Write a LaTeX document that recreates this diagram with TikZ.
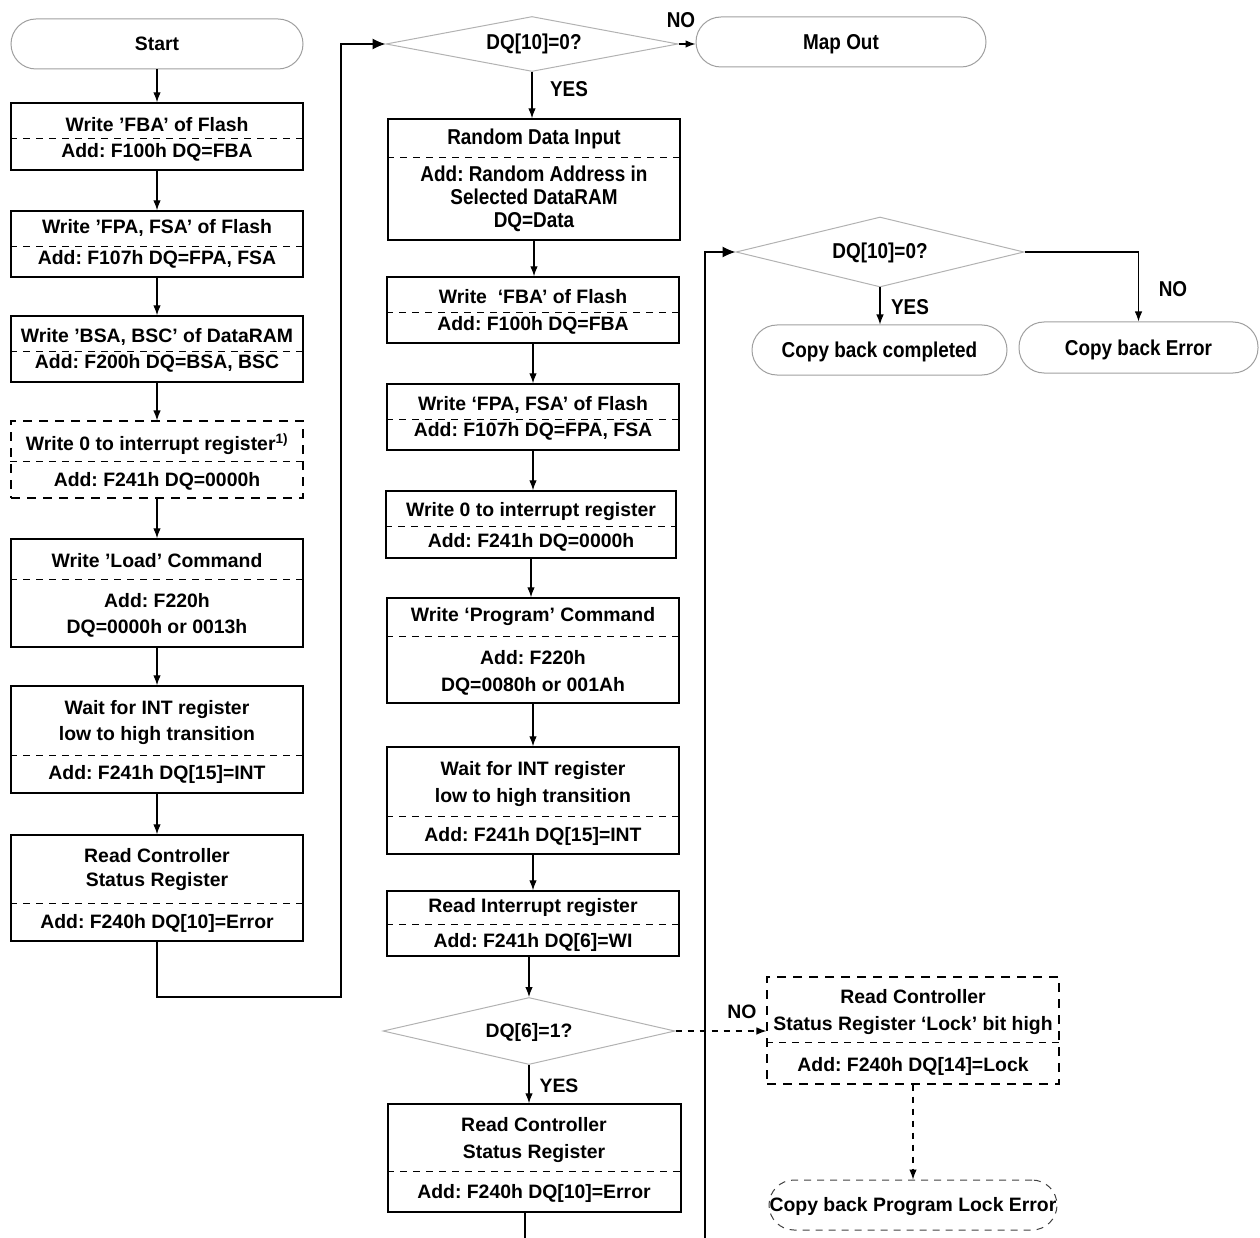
\documentclass[tikz,border=0pt]{standalone}
\usepackage{fontspec}
\setmainfont{Liberation Sans}
\newfontfamily\nfont[FakeStretch=0.88]{Liberation Sans}
\usetikzlibrary{arrows.meta,shapes.geometric}
\frenchspacing
\begin{document}
\begin{tikzpicture}[x=1pt,y=-1pt,
 box/.style={draw, line width=1.4pt, minimum width=292pt, inner sep=0pt, rectangle},
 dbox/.style={box, line width=1.1pt, dash pattern=on 9pt off 7pt},
 term/.style={draw=gray!75, line width=1pt, rounded corners=25pt, minimum height=50pt, inner sep=0pt, rectangle},
 dterm/.style={term, draw=black!75, dash pattern=on 7pt off 6pt},
 dec/.style={draw=gray!60, line width=1pt, shape=diamond, inner sep=0pt},
 txt/.style={font=\fontsize{19.4}{23}\selectfont\bfseries, inner sep=0pt, text height=13.9pt, text depth=0pt},
 ntxt/.style={font=\fontsize{21.5}{25}\selectfont\nfont\bfseries, inner sep=0pt, text height=15.4pt, text depth=0pt},
 arr/.style={line width=1.2pt, -{Latex[length=10pt,width=7.5pt]}},
 barr/.style={line width=1.2pt, -{Latex[length=13pt,width=11pt]}},
 darr/.style={arr, dash pattern=on 6pt off 6pt},
 div/.style={line width=0.9pt, dash pattern=on 7pt off 6pt}]
\useasboundingbox (0,0) rectangle (1260,1238);

% ---------- left column ----------
\node[term, txt, minimum width=292pt] (start) at (157,44) {Start};

\node[box, minimum height=67pt] (b1) at (157,136.5) {};
\draw[div] (b1.west |- 0,138) -- (b1.east |- 0,138);
\node[txt] (b1a) at (157,125) {Write ’FBA’ of Flash};
\node[txt] (b1b) at (157,151) {Add: F100h DQ=FBA};

\node[box, minimum height=66pt] (b2) at (157,244) {};
\draw[div] (b2.west |- 0,246) -- (b2.east |- 0,246);
\node[txt] (b2a) at (157,227) {Write ’FPA, FSA’ of Flash};
\node[txt] (b2b) at (157,258) {Add: F107h DQ=FPA, FSA};

\node[box, minimum height=66pt] (b3) at (157,349) {};
\draw[div] (b3.west |- 0,351) -- (b3.east |- 0,351);
\node[txt] (b3a) at (157,336) {Write ’BSA, BSC’ of DataRAM};
\node[txt] (b3b) at (157,362) {Add: F200h DQ=BSA, BSC};

\node[dbox, minimum height=77pt] (b4) at (157,459.5) {};
\draw[div] (b4.west |- 0,461) -- (b4.east |- 0,461);
\node[txt] (b4a) at (157,444) {Write 0 to interrupt register\textsuperscript{1)}};
\node[txt] (b4b) at (157,480) {Add: F241h DQ=0000h};

\node[box, minimum height=108pt] (b5) at (157,593) {};
\draw[div] (b5.west |- 0,579) -- (b5.east |- 0,579);
\node[txt] (b5a) at (157,561) {Write ’Load’ Command};
\node[txt] (b5b) at (157,601) {Add: F220h};
\node[txt] (b5c) at (157,627) {DQ=0000h or 0013h};

\node[box, minimum height=107pt] (b6) at (157,739.5) {};
\draw[div] (b6.west |- 0,755) -- (b6.east |- 0,755);
\node[txt] (b6a) at (157,708) {Wait for INT register};
\node[txt] (b6b) at (157,734) {low to high transition};
\node[txt] (b6c) at (157,773) {Add: F241h DQ[15]=INT};

\node[box, minimum height=106pt] (b7) at (157,888) {};
\draw[div] (b7.west |- 0,903) -- (b7.east |- 0,903);
\node[txt] (b7a) at (157,856) {Read Controller};
\node[txt] (b7b) at (157,880) {Status Register};
\node[txt] (b7c) at (157,922) {Add: F240h DQ[10]=Error};

% ---------- middle column ----------
\node[dec, minimum width=292pt, minimum height=55pt] (d1) at (532,44) {};
\node[ntxt] (d1t) at (534,42) {DQ[10]=0?};
\node[term, ntxt, minimum width=290pt] (mo) at (841,42) {Map Out};
\node[ntxt] (no1) at (681,20) {NO};
\node[ntxt] (yes1) at (569,89) {YES};

\node[box, minimum height=121pt] (m1) at (534,179.5) {};
\draw[div] (m1.west |- 0,157) -- (m1.east |- 0,157);
\node[ntxt] (m1a) at (534,137) {Random Data Input};
\node[ntxt] (m1b) at (534,174) {Add: Random Address in};
\node[ntxt] (m1c) at (534,197) {Selected DataRAM};
\node[ntxt] (m1d) at (534,220) {DQ=Data};

\node[box, minimum height=66pt] (m2) at (533,310) {};
\draw[div] (m2.west |- 0,312) -- (m2.east |- 0,312);
\node[txt] (m2a) at (533,297) {Write\ \ ‘FBA’ of Flash};
\node[txt] (m2b) at (533,324) {Add: F100h DQ=FBA};

\node[box, minimum height=66pt] (m3) at (533,417) {};
\draw[div] (m3.west |- 0,419) -- (m3.east |- 0,419);
\node[txt] (m3a) at (533,404) {Write ‘FPA, FSA’ of Flash};
\node[txt] (m3b) at (533,430) {Add: F107h DQ=FPA, FSA};

\node[box, minimum width=290pt, minimum height=67pt] (m4) at (531,524.5) {};
\draw[div] (m4.west |- 0,526) -- (m4.east |- 0,526);
\node[txt] (m4a) at (531,510) {Write 0 to interrupt register};
\node[txt] (m4b) at (531,541) {Add: F241h DQ=0000h};

\node[box, minimum height=105pt] (m5) at (533,650.5) {};
\draw[div] (m5.west |- 0,636) -- (m5.east |- 0,636);
\node[txt] (m5a) at (533,615) {Write ‘Program’ Command};
\node[txt] (m5b) at (533,658) {Add: F220h};
\node[txt] (m5c) at (533,685) {DQ=0080h or 001Ah};

\node[box, minimum height=107pt] (m6) at (533,800.5) {};
\draw[div] (m6.west |- 0,816) -- (m6.east |- 0,816);
\node[txt] (m6a) at (533,769) {Wait for INT register};
\node[txt] (m6b) at (533,796) {low to high transition};
\node[txt] (m6c) at (533,835) {Add: F241h DQ[15]=INT};

\node[box, minimum height=65pt] (m7) at (533,923.5) {};
\draw[div] (m7.west |- 0,924) -- (m7.east |- 0,924);
\node[txt] (m7a) at (533,906) {Read Interrupt register};
\node[txt] (m7b) at (533,941) {Add: F241h DQ[6]=WI};

\node[dec, minimum width=292pt, minimum height=67pt] (d2) at (529,1031) {};
\node[txt] (d2t) at (529,1031) {DQ[6]=1?};
\node[txt] (yes2) at (559,1086) {YES};

\node[box, minimum width=293pt, minimum height=108pt] (m8) at (534.5,1158) {};
\draw[div] (m8.west |- 0,1171) -- (m8.east |- 0,1171);
\node[txt] (m8a) at (534,1125) {Read Controller};
\node[txt] (m8b) at (534,1152) {Status Register};
\node[txt] (m8c) at (534,1192) {Add: F240h DQ[10]=Error};

% ---------- right part ----------
\node[dec, minimum width=288pt, minimum height=70pt] (d3) at (880,252) {};
\node[ntxt] (d3t) at (880,251) {DQ[10]=0?};
\node[term, ntxt, minimum width=255pt] (cbc) at (879.5,350) {Copy back completed};
\node[term, ntxt, minimum width=239pt, minimum height=51pt] (cbe) at (1138.5,347.5) {Copy back Error};
\node[ntxt] (yes3) at (910,307) {YES};
\node[ntxt] (no3) at (1173,289) {NO};

\node[dbox, minimum height=107pt] (r1) at (913,1030.5) {};
\draw[div] (r1.west |- 0,1042) -- (r1.east |- 0,1042);
\node[txt] (r1a) at (913,997) {Read Controller};
\node[txt] (r1b) at (913,1024) {Status Register ‘Lock’ bit high};
\node[txt] (r1c) at (913,1065) {Add: F240h DQ[14]=Lock};
\node[txt] (no2) at (742,1012) {NO};

\node[dterm, txt, minimum width=288pt] (cbple) at (913,1205) {Copy back Program Lock Error};

% ---------- connectors ----------
\coordinate (c1) at (341,997);
\coordinate (lb) at (705,1238);
\coordinate (mb) at (525,1238);

\draw[arr] (start.south) -- (b1.north);
\draw[arr] (b1.south) -- (b2.north);
\draw[arr] (b2.south) -- (b3.north);
\draw[arr] (b3.south) -- (b4.north);
\draw[arr] (b4.south) -- (b5.north);
\draw[arr] (b5.south) -- (b6.north);
\draw[arr] (b6.south) -- (b7.north);
\draw[barr] (b7.south) |- (c1) |- (d1.west);

\draw[arr] (d1.east) -- (d1.east -| mo.west);
\draw[arr] (d1.south) -- (d1.south |- m1.north);
\draw[arr] (m1.south) -- (m1.south |- m2.north);
\draw[arr] (m2.south) -- (m2.south |- m3.north);
\draw[arr] (m3.south) -- (m3.south |- m4.north);
\draw[arr] (m4.south) -- (m4.south |- m5.north);
\draw[arr] (m5.south) -- (m5.south |- m6.north);
\draw[arr] (m6.south) -- (m6.south |- m7.north);
\draw[arr] (d2.north |- m7.south) -- (d2.north);
\draw[arr] (d2.south) -- (d2.south |- m8.north);
\draw[line width=1.2pt] (mb |- m8.south) -- (mb);

\draw[barr] (lb) |- (d3.west);
\draw[arr] (d3.south) -- (d3.south |- cbc.north);
\draw[arr] (d3.east) -| (cbe.north);

\draw[darr] (d2.east) -- (d2.east -| r1.west);
\draw[darr] (r1.south) -- (r1.south |- cbple.north);
\end{tikzpicture}
\end{document}
